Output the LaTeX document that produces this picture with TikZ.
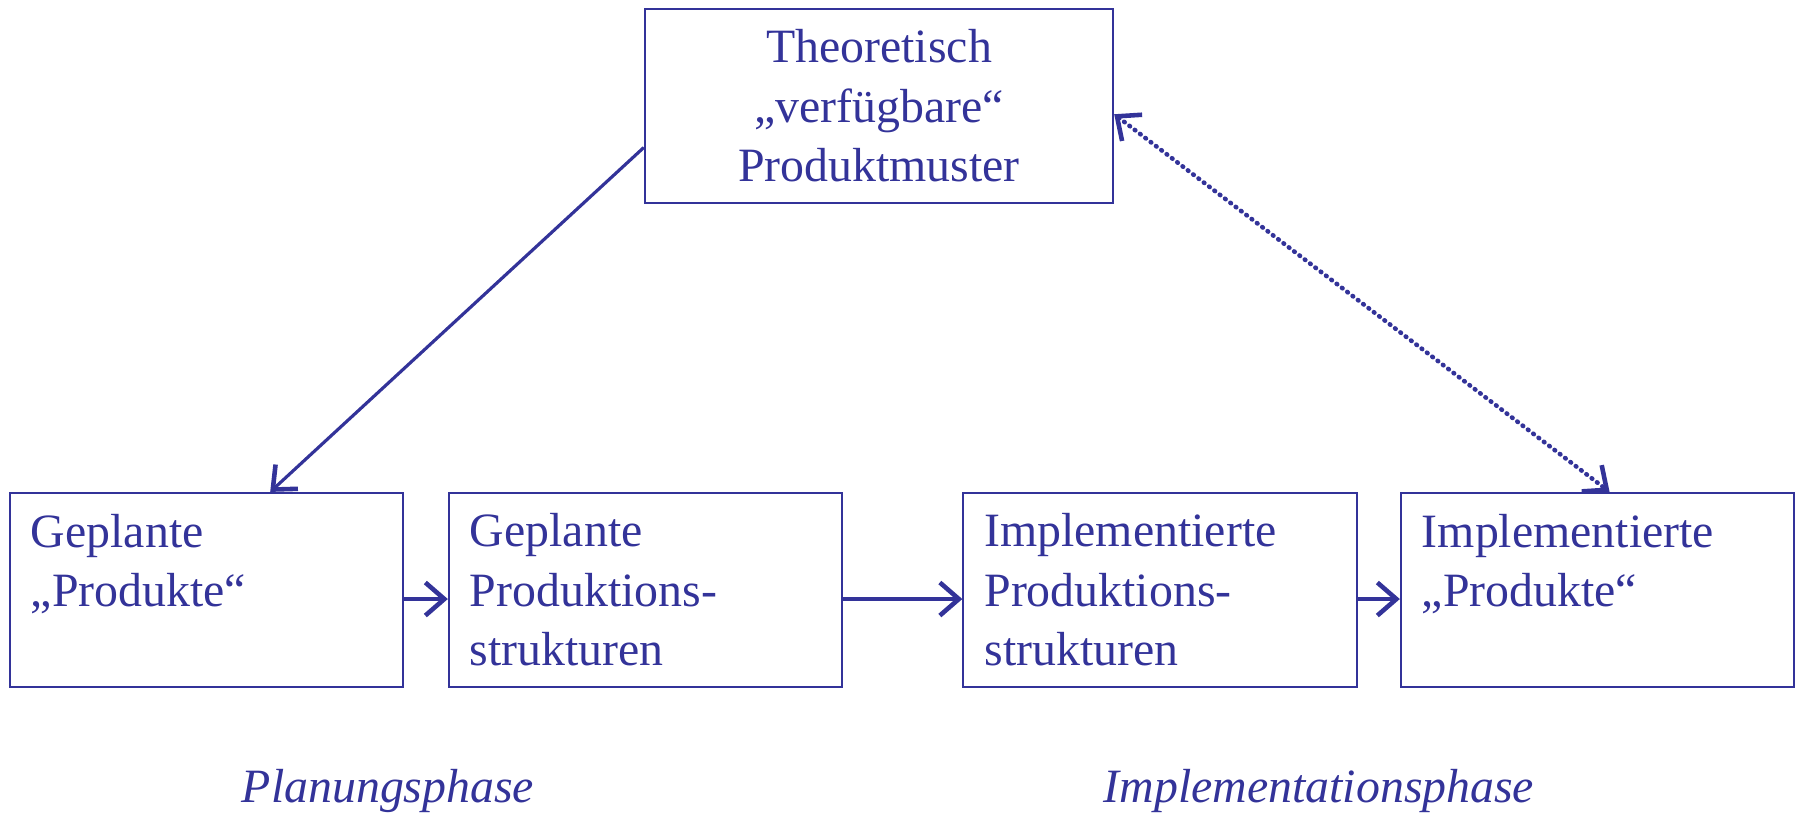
\documentclass[tikz,border=0pt]{standalone}
\usepackage{fontspec}
\setmainfont{Liberation Serif}
\usetikzlibrary{arrows.meta}
\definecolor{blau}{HTML}{333399}

\begin{document}
\begin{tikzpicture}[x=0.01cm,y=-0.01cm,>={Straight Barb[length=1.9mm,width=3.3mm,line width=1.3pt]},line width=0.9pt,blau,
  font=\fontsize{13.6}{16.9}\selectfont,
  box/.style={draw,line width=0.6pt,minimum width=3.93cm,minimum height=1.94cm,text width=3.51cm,inner xsep=2.1mm,align=left},
  topbox/.style={box,minimum width=4.68cm,text width=4.26cm,align=center},
  phase/.style={font=\fontsize{13.6}{16.9}\selectfont\itshape}]
  \useasboundingbox (0,0) rectangle (1801,820);
  \node[topbox] (top) at (879,106) {Theoretisch\\„verfügbare“\\Produktmuster};
  \node[box] (p1) at (206.5,590) {Geplante\\„Produkte“\\~};
  \node[box] (p2) at (645.5,590) {Geplante\\Produktions-\\strukturen};
  \node[box] (p3) at (1160,590) {Implementierte\\Produktions-\\strukturen};
  \node[box] (p4) at (1597.5,590) {Implementierte\\„Produkte“\\~};
  \node[phase] (plan) at (388,791) {Planungsphase};
  \node[phase] (impl) at (1319,791) {Implementationsphase};
  \path[->]
  (top.190) edge (p1.57)
  ([yshift=-0.9mm]p1.east) edge ([yshift=-0.9mm]p2.west)
  ([yshift=-0.9mm]p2.east) edge ([yshift=-0.9mm]p3.west)
  ([yshift=-0.9mm]p3.east) edge ([yshift=-0.9mm]p4.west);
  \draw[<->,line width=1.3pt,dash pattern=on 0.2pt off 1.7pt,line cap=round] (top.-2) -- (p4.83);
\end{tikzpicture}
\end{document}
